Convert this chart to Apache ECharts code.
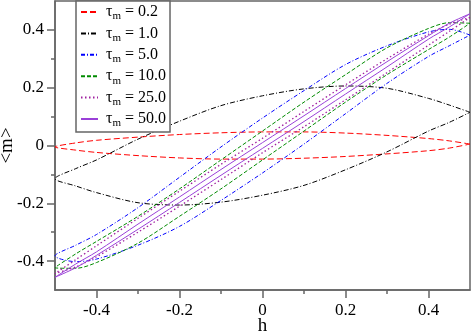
<!DOCTYPE html>
<html>
<head>
<meta charset="utf-8">
<script src="https://cdn.jsdelivr.net/npm/echarts@6/dist/echarts.min.js"></script>
<style>
  html, body { margin: 0; padding: 0; background: #fff; }
  #chart { width: 471px; height: 335px; }
</style>
</head>
<body>
<div id="chart"></div>
<script>
// field values h, shared by every branch
var hVals = [-0.5, -0.45, -0.4, -0.3, -0.2, -0.1, 0, 0.1, 0.2, 0.3, 0.4, 0.45, 0.5];

// <m> on the decreasing-h branch (upper) and increasing-h branch (lower)
var up02  = [-0.005, 0.009, 0.018, 0.029, 0.038, 0.044, 0.047, 0.047, 0.043, 0.035, 0.024, 0.016, 0.005];
var lo02  = [-0.005, -0.016, -0.024, -0.035, -0.043, -0.047, -0.047, -0.044, -0.038, -0.029, -0.018, -0.009, 0.005];
var up10  = [-0.115, -0.08, -0.05, 0.022, 0.084, 0.138, 0.172, 0.196, 0.206, 0.198, 0.163, 0.14, 0.115];
var lo10  = [-0.115, -0.14, -0.163, -0.198, -0.206, -0.196, -0.172, -0.138, -0.084, -0.022, 0.05, 0.08, 0.115];
var up50  = [-0.382, -0.345, -0.308, -0.215, -0.11, -0.005, 0.095, 0.19, 0.28, 0.345, 0.393, 0.402, 0.382];
var lo50  = [-0.382, -0.402, -0.393, -0.345, -0.28, -0.19, -0.095, 0.005, 0.11, 0.215, 0.308, 0.345, 0.382];
var up100 = [-0.423, -0.375, -0.332, -0.245, -0.15, -0.05, 0.05, 0.15, 0.245, 0.338, 0.405, 0.425, 0.423];
var lo100 = [-0.423, -0.425, -0.405, -0.338, -0.245, -0.15, -0.05, 0.05, 0.15, 0.245, 0.332, 0.375, 0.423];
var up250 = [-0.443, -0.395, -0.347, -0.252, -0.158, -0.065, 0.025, 0.118, 0.21, 0.3, 0.385, 0.42, 0.443];
var lo250 = [-0.443, -0.42, -0.385, -0.3, -0.21, -0.118, -0.025, 0.065, 0.158, 0.252, 0.347, 0.395, 0.443];
var up500 = [-0.456, -0.41, -0.368, -0.272, -0.178, -0.083, 0.01, 0.103, 0.197, 0.29, 0.38, 0.423, 0.456];
var lo500 = [-0.456, -0.423, -0.38, -0.29, -0.197, -0.103, -0.01, 0.083, 0.178, 0.272, 0.368, 0.41, 0.456];

var tauNames = ['0.2', '1.0', '5.0', '10.0', '25.0', '50.0'];
var majorTicks = [-0.4, -0.2, 0, 0.2, 0.4];
var minorTicks = [-0.3, -0.1, 0.1, 0.3];

var FONT = 'Liberation Serif';

// one closed loop: upper branch from h=0.5 down to -0.5, then lower branch back up
function loop(up, lo) {
  var pts = [];
  for (var i = hVals.length - 1; i >= 0; i--) pts.push([hVals[i], up[i]]);
  for (var j = 1; j < hVals.length; j++) pts.push([hVals[j], lo[j]]);
  return pts;
}

var styles = [
  { color: '#ff0000', width: 1, type: [6, 3] },
  { color: '#000000', width: 1, type: [5, 2, 1, 2] },
  { color: '#0000ff', width: 1, type: [4, 2, 1, 2] },
  { color: '#008b00', width: 1, type: [4, 2] },
  { color: '#a020a0', width: 1.3, type: [1.5, 2.5] },
  { color: '#9a40d8', width: 1, type: 'solid' }
];
var loops = [loop(up02, lo02), loop(up10, lo10), loop(up50, lo50),
             loop(up100, lo100), loop(up250, lo250), loop(up500, lo500)];

var series = tauNames.map(function (n, i) {
  return {
    name: n,
    type: 'line',
    data: loops[i],
    symbol: 'none',
    smooth: 0.3,
    itemStyle: { color: styles[i].color },
    lineStyle: { color: styles[i].color, width: styles[i].width, type: styles[i].type }
  };
});

var axisGrey = { color: '#666', width: 1.5 };

var chart = echarts.init(document.getElementById('chart'));
var option = {
  animation: false,
  grid: {
    left: 55, right: 1, top: 1, bottom: 45,
    outerBoundsMode: 'none',
    show: true, borderColor: '#666', borderWidth: 1.5
  },
  legend: {
    orient: 'vertical',
    left: 76, top: 1,
    padding: [1, 4, 3, 4],
    itemGap: 1.4, itemWidth: 17, itemHeight: 10,
    itemStyle: { opacity: 0 },
    backgroundColor: '#fff', borderColor: '#666', borderWidth: 1.5,
    selectedMode: false,
    data: tauNames,
    formatter: function (name) { return '{g| }{t|τ}{s|m}{t| = ' + name + '}'; },
    textStyle: {
      rich: {
        g: { width: 3, fontSize: 10, lineHeight: 17 },
        t: { fontFamily: FONT, fontSize: 16, color: '#000', lineHeight: 17 },
        s: { fontFamily: FONT, fontSize: 11, color: '#000', lineHeight: 17, padding: [9, 0, 0, 0] }
      }
    }
  },
  xAxis: [{
    type: 'value', min: -0.5, max: 0.5, position: 'bottom',
    name: 'h', nameLocation: 'middle', nameGap: 27, nameMoveOverlap: false,
    nameTextStyle: { fontFamily: FONT, fontSize: 19, color: '#000' },
    axisLine: { onZero: false, lineStyle: axisGrey },
    axisTick: { customValues: majorTicks, length: 8, lineStyle: axisGrey },
    axisLabel: { customValues: majorTicks, margin: 12, fontFamily: FONT, fontSize: 17, color: '#000' },
    splitLine: { show: false }
  }, {
    type: 'value', min: -0.5, max: 0.5, position: 'bottom',
    axisLine: { show: false, onZero: false },
    axisTick: { customValues: minorTicks, length: 4, lineStyle: axisGrey },
    axisLabel: { show: false },
    splitLine: { show: false }
  }],
  yAxis: [{
    type: 'value', min: -0.5, max: 0.5, position: 'left',
    name: '<m>', nameLocation: 'middle', nameGap: 38, nameMoveOverlap: false,
    nameTextStyle: { fontFamily: FONT, fontSize: 19, color: '#000' },
    axisLine: { onZero: false, lineStyle: axisGrey },
    axisTick: { customValues: majorTicks, length: 8, lineStyle: axisGrey },
    axisLabel: { customValues: majorTicks, margin: 11, fontFamily: FONT, fontSize: 17, color: '#000' },
    splitLine: { show: false }
  }, {
    type: 'value', min: -0.5, max: 0.5, position: 'left',
    axisLine: { show: false, onZero: false },
    axisTick: { customValues: minorTicks, length: 4, lineStyle: axisGrey },
    axisLabel: { show: false },
    splitLine: { show: false }
  }],
  series: series
};
chart.setOption(option);
</script>
</body>
</html>
